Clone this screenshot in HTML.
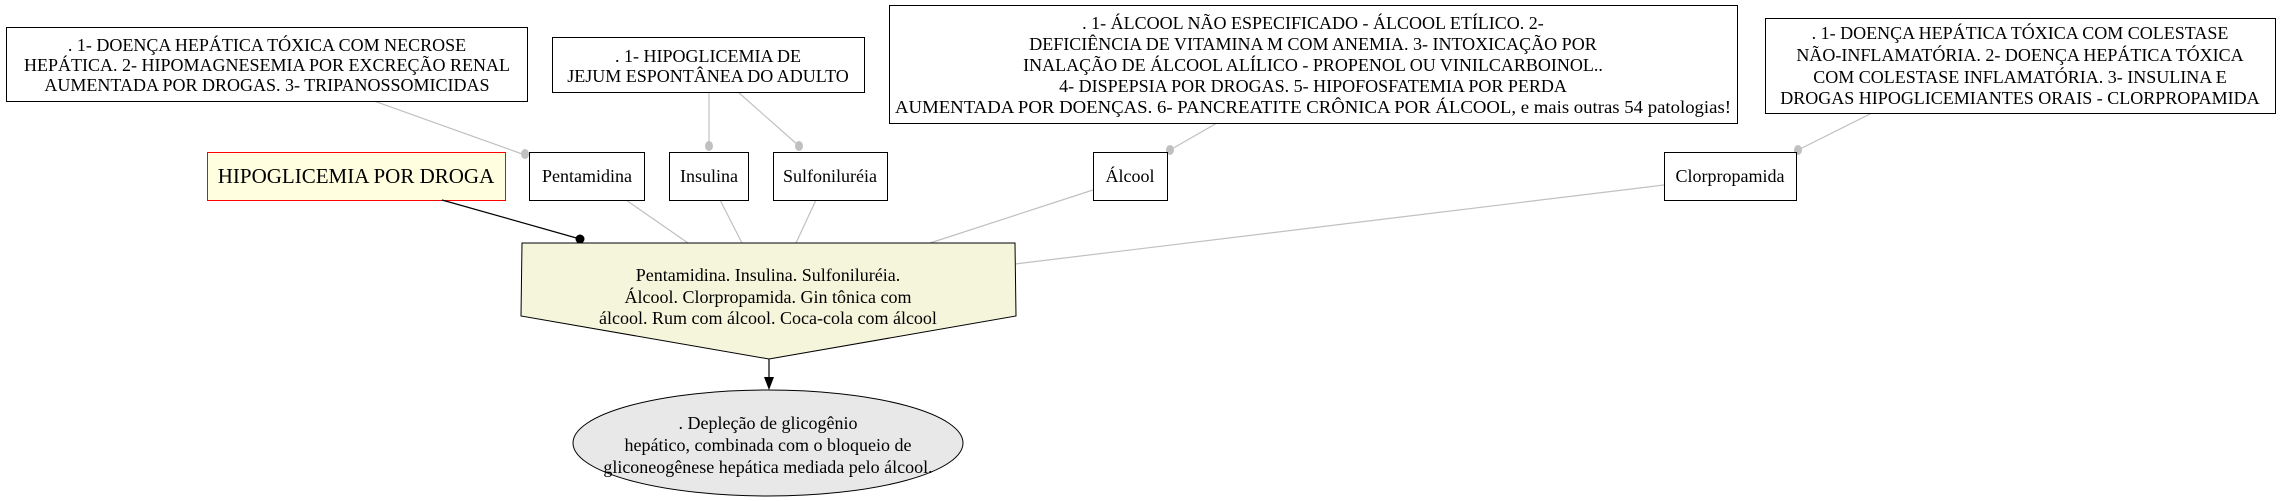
<!DOCTYPE html>
<html><head><meta charset="utf-8"><style>
html,body{margin:0;padding:0;background:#fff;}
svg{display:block;}
text{font-family:"Liberation Serif",serif;fill:#000;}
</style></head><body>
<svg width="2288" height="501" viewBox="0 0 2288 501" xmlns="http://www.w3.org/2000/svg">
<g stroke="#c0c0c0" stroke-width="1.2" fill="none">
<line x1="374" y1="101" x2="525" y2="155"/>
<line x1="709" y1="92" x2="709" y2="146"/>
<line x1="738" y1="92" x2="799" y2="146"/>
<line x1="1217" y1="123" x2="1170" y2="150"/>
<line x1="1872" y1="113" x2="1798" y2="150"/>
<line x1="626" y1="200" x2="688" y2="243"/>
<line x1="720" y1="200" x2="742" y2="243"/>
<line x1="816" y1="200" x2="796" y2="243"/>
<line x1="1093" y1="190" x2="930" y2="243"/>
<line x1="1664" y1="185" x2="1015" y2="264"/>
</g>
<g fill="#c0c0c0">
<ellipse cx="525" cy="154" rx="4" ry="5"/>
<ellipse cx="709" cy="146" rx="4" ry="5"/>
<ellipse cx="799" cy="146" rx="4" ry="5"/>
<ellipse cx="1170" cy="150" rx="4" ry="5"/>
<ellipse cx="1798" cy="150" rx="4" ry="5"/>
</g>
<g fill="#fff" stroke="#000" stroke-width="1">
<rect x="6.5" y="27.5" width="521" height="74"/>
<rect x="552.5" y="37.5" width="312" height="55"/>
<rect x="889.5" y="5.5" width="848" height="118"/>
<rect x="1765.5" y="18.5" width="510" height="95"/>
<rect x="529.5" y="152.5" width="115" height="48"/>
<rect x="669.5" y="152.5" width="79" height="48"/>
<rect x="773.5" y="152.5" width="114" height="48"/>
<rect x="1093.5" y="152.5" width="74" height="48"/>
<rect x="1664.5" y="152.5" width="132" height="48"/>
</g>
<rect x="207.5" y="152.5" width="298" height="48" fill="#ffffe0" stroke="#ff0000" stroke-width="1"/>
<g font-size="18" text-anchor="middle">
<text x="267" y="51">. 1- DOENÇA HEPÁTICA TÓXICA COM NECROSE</text>
<text x="267" y="71">HEPÁTICA. 2- HIPOMAGNESEMIA POR EXCREÇÃO RENAL</text>
<text x="267" y="91">AUMENTADA POR DROGAS. 3- TRIPANOSSOMICIDAS</text>
<text x="708" y="62">. 1- HIPOGLICEMIA DE</text>
<text x="708" y="82">JEJUM ESPONTÂNEA DO ADULTO</text>
<text x="1313" y="29">. 1- ÁLCOOL NÃO ESPECIFICADO - ÁLCOOL ETÍLICO. 2-</text>
<text x="1313" y="50">DEFICIÊNCIA DE VITAMINA M COM ANEMIA. 3- INTOXICAÇÃO POR</text>
<text x="1313" y="71">INALAÇÃO DE ÁLCOOL ALÍLICO - PROPENOL OU VINILCARBOINOL..</text>
<text x="1313" y="92">4- DISPEPSIA POR DROGAS. 5- HIPOFOSFATEMIA POR PERDA</text>
<text x="1313" y="113" textLength="836" lengthAdjust="spacingAndGlyphs">AUMENTADA POR DOENÇAS. 6- PANCREATITE CRÔNICA POR ÁLCOOL, e mais outras 54 patologias!</text>
<text x="2020" y="39">. 1- DOENÇA HEPÁTICA TÓXICA COM COLESTASE</text>
<text x="2020" y="61">NÃO-INFLAMATÓRIA. 2- DOENÇA HEPÁTICA TÓXICA</text>
<text x="2020" y="83">COM COLESTASE INFLAMATÓRIA. 3- INSULINA E</text>
<text x="2020" y="104">DROGAS HIPOGLICEMIANTES ORAIS - CLORPROPAMIDA</text>
</g>
<g font-size="18" text-anchor="middle">
<text x="587" y="182">Pentamidina</text>
<text x="709" y="182">Insulina</text>
<text x="830" y="182">Sulfoniluréia</text>
<text x="1130" y="182">Álcool</text>
<text x="1730" y="182">Clorpropamida</text>
</g>
<text x="356" y="183" font-size="21" text-anchor="middle">HIPOGLICEMIA POR DROGA</text>
<line x1="442" y1="200" x2="580" y2="239" stroke="#000" stroke-width="1.2"/>
<circle cx="580" cy="239" r="4.5" fill="#000"/>
<polygon points="522,243 1015,243 1016,316 769,359 521,316" fill="#f5f5dc" stroke="#000" stroke-width="1"/>
<g font-size="18" text-anchor="middle">
<text x="768" y="281">Pentamidina. Insulina. Sulfoniluréia.</text>
<text x="768" y="303">Álcool. Clorpropamida. Gin tônica com</text>
<text x="768" y="324">álcool. Rum com álcool. Coca-cola com álcool</text>
</g>
<line x1="769" y1="359" x2="769" y2="378" stroke="#000" stroke-width="1.2"/>
<polygon points="764,377 774,377 769,390" fill="#000"/>
<ellipse cx="768" cy="443" rx="195" ry="53" fill="#e8e8e8" stroke="#000" stroke-width="1"/>
<g font-size="18" text-anchor="middle">
<text x="768" y="429">. Depleção de glicogênio</text>
<text x="768" y="451">hepático, combinada com o bloqueio de</text>
<text x="768" y="473">gliconeogênese hepática mediada pelo álcool.</text>
</g>
</svg>
</body></html>
